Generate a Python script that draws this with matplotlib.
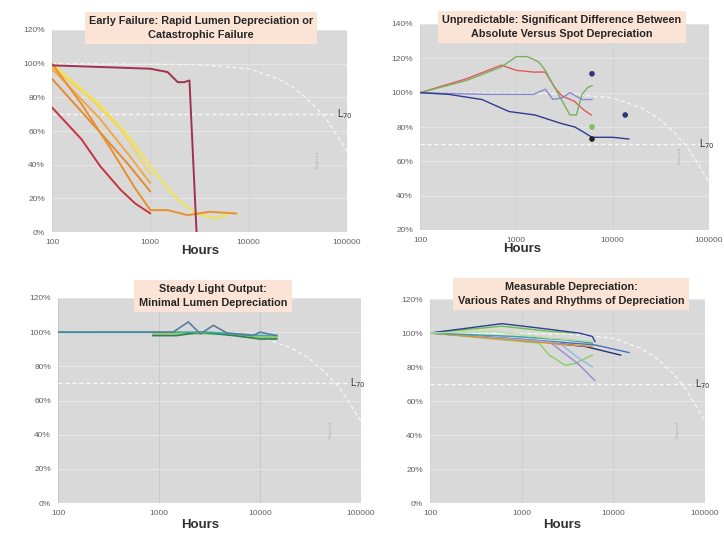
import numpy as np
import matplotlib.pyplot as plt

# ---- data (hours, percent of initial lumens) ----
# white projected-depreciation curve, same in each panel
ref_hours = [100, 3000, 10000, 20000, 30000, 45000, 60000, 80000, 100000]
ref_pct = [100, 99.5, 97, 91, 85, 76, 68, 57, 48]

# panel 1: early failure
p1_maroon_h = [100, 1000, 1500, 1900, 2200, 2500, 2950]
p1_maroon_v = [99, 97, 95, 89, 89, 90, 0]
p1_red_h = [100, 200, 310, 500, 700, 1000]
p1_red_v = [74, 55, 39, 25, 17, 11]
p1_orange1_h = [100, 300, 600, 1000]
p1_orange1_v = [91, 60, 40, 24]
p1_orange2_h = [100, 300, 600, 1000]
p1_orange2_v = [97, 68, 46, 29]
p1_orange3_h = [100, 200, 400, 700, 1000, 1500, 2400, 4000, 7500]
p1_orange3_v = [100, 76, 49, 26, 13, 13, 10, 12, 11]
p1_yellow1_h = [100, 300, 600, 1000, 1500, 2000, 3000, 4500, 6000]
p1_yellow1_v = [100, 76, 57, 39, 26, 18, 11, 8, 10]
p1_yellow2_h = [100, 250, 500, 1000]
p1_yellow2_v = [98, 79, 61, 34]

# panel 2: unpredictable
p2_red_h = [100, 300, 700, 1000, 1500, 2000, 2500, 3000, 4000, 5000, 6000]
p2_red_v = [100, 108, 116, 113, 112, 112, 103, 98, 95, 90, 87]
p2_green_h = [100, 300, 700, 1000, 1300, 1700, 2000, 2500, 3000, 3600, 4200, 4800, 5500, 6100]
p2_green_v = [100, 107, 115, 121, 121, 118, 113, 103, 95, 87, 87, 99, 103, 104]
p2_purple_h = [100, 500, 1500, 2000, 2400, 3000, 3600, 4800, 6100]
p2_purple_v = [100, 99, 99, 102, 96, 97, 100, 96, 96]
p2_blue_h = [100, 200, 440, 840, 1560, 2950, 4050, 5000, 6100, 8000, 10000, 14700]
p2_blue_v = [100, 99, 96, 89, 87, 82, 80, 77, 74, 74, 74, 73]
p2_spot_h = [6100, 6100, 13500, 6100]
p2_spot_v = [111, 80, 87, 73]
p2_spot_c = ['#2b3577', '#7cc060', '#2b3577', '#222222']

# panel 3: steady output
p3_steel_h = [100, 1000, 1380, 1950, 2570, 3450, 4700, 8500, 10000, 14700]
p3_steel_v = [100, 100, 100, 106, 99, 104, 99.5, 98, 100, 98]
p3_teal_h = [100, 1000, 3000, 6000, 10000, 14700]
p3_teal_v = [100, 100, 100, 99, 98, 98]
p3_dgreen_h = [870, 1500, 2570, 5500, 10000, 14700]
p3_dgreen_v = [98, 98, 100, 98, 96, 96]
p3_cyan_h = [100, 1000, 2500, 6000, 12000]
p3_cyan_v = [99.5, 99.5, 99, 98, 97]
p3_lime_h = [870, 2000, 5000, 10000, 14700]
p3_lime_v = [99, 99, 99, 97, 97]

# panel 4: measurable depreciation
p4_series = [
    ('#6cbf4f', [100, 610, 2000, 3800], [100, 104, 101, 100]),
    ('#2e3f8f', [100, 610, 1500, 4200, 5900, 6300], [100, 105.5, 103, 100, 98, 95]),
    ('#4a6fc0', [100, 1200, 6300, 14800], [100, 96, 93, 88.5]),
    ('#243070', [100, 1500, 5000, 12000], [100, 95, 92, 87]),
    ('#8ccf60', [100, 1550, 2000, 3000, 3800, 5900], [100, 94, 87, 81, 82, 87]),
    ('#9a8ad0', [100, 2000, 4200, 6300], [100, 95, 81.5, 72]),
    ('#8fb8e8', [100, 2600, 4000, 5900], [100, 94, 86, 80]),
    ('#e0903a', [100, 3300, 5900], [100, 93, 92]),
    ('#3aa0a0', [100, 800, 3000, 5900], [100, 98, 96, 94]),
    ('#b8e0a0', [100, 500, 2000, 5900], [100, 101, 97, 95]),
]

titles = [
    'Early Failure: Rapid Lumen Depreciation or\nCatastrophic Failure',
    'Unpredictable: Significant Difference Between\nAbsolute Versus Spot Depreciation',
    'Steady Light Output:\nMinimal Lumen Depreciation',
    'Measurable Depreciation:\nVarious Rates and Rhythms of Depreciation',
]
x_ticks = [100, 1000, 10000, 100000]
x_labels = ['100', '1000', '10000', '100000']

plt.rcParams['font.family'] = ['Liberation Sans Narrow', 'Liberation Sans', 'DejaVu Sans']

fig = plt.figure(figsize=(7.24, 5.33), dpi=100)
fig.patch.set_facecolor('white')

W, H = 724.0, 533.0
def box(l, r, t, b):
    return [l / W, 1 - b / H, (r - l) / W, (b - t) / H]

axes = [
    fig.add_axes(box(52, 347, 30, 232)),
    fig.add_axes(box(420, 709, 24, 230)),
    fig.add_axes(box(58, 361, 298, 503)),
    fig.add_axes(box(430, 705, 299, 503)),
]
ylims = [(0, 120), (20, 140), (0, 120), (0, 120)]

for i, ax in enumerate(axes):
    ax.set_facecolor('#d9d9d9')
    ax.set_xscale('log')
    ax.set_xlim(100, 100000)
    ax.set_ylim(*ylims[i])
    ax.set_yticks(np.arange(ylims[i][0], ylims[i][1] + 1, 20))
    ax.set_yticklabels(['%d%%' % v for v in np.arange(ylims[i][0], ylims[i][1] + 1, 20)])
    ax.set_xticks(x_ticks)
    ax.set_xticklabels(x_labels)
    ax.minorticks_off()
    ax.tick_params(length=0, labelsize=6, labelcolor='#606060', pad=5)
    for s in ax.spines.values():
        s.set_visible(False)
    ax.grid(axis='y', color='#e8e8e8', linewidth=0.6)
    ax.grid(axis='x', color='#c8c8c8' if i == 2 else '#d2d2d2', linewidth=0.8)
    ax.set_axisbelow(True)
    # projection and L70
    ax.plot(ref_hours, ref_pct, color='#f4f4f4', linewidth=1.0, linestyle=(0, (3, 2)), zorder=2)
    ax.axhline(70, color='#f8f8f8', linewidth=1.0, linestyle=(0, (3, 2)), zorder=2)
    ax.text(0.965, 70, 'L$_{70}$', transform=ax.get_yaxis_transform(), fontsize=7,
            color='#303030', va='center', ha='left')
    ax.text(0.9, 0.36, 'Projected', transform=ax.transAxes, rotation=90, fontsize=3,
            color='#b0b0b0', va='center', ha='center')

# panel 1
ax = axes[0]
lw = 1.4
for h, v, c in [(p1_yellow2_h, p1_yellow2_v, '#f3d36a'),
                (p1_yellow1_h, p1_yellow1_v, '#f0e448'),
                (p1_orange2_h, p1_orange2_v, '#f0a848'),
                (p1_orange1_h, p1_orange1_v, '#e48a30'),
                (p1_orange3_h, p1_orange3_v, '#e8902c'),
                (p1_red_h, p1_red_v, '#c8323f'),
                (p1_maroon_h, p1_maroon_v, '#a03050')]:
    ax.plot(h, v, color=c, linewidth=lw, solid_capstyle='round', zorder=3)

# panel 2
ax = axes[1]
ax.plot(p2_red_h, p2_red_v, color='#e05a5a', linewidth=1.0, zorder=3)
ax.plot(p2_green_h, p2_green_v, color='#78b060', linewidth=1.0, zorder=3)
ax.plot(p2_purple_h, p2_purple_v, color='#8a88d0', linewidth=1.0, zorder=3)
ax.plot(p2_blue_h, p2_blue_v, color='#2e3c90', linewidth=1.0, zorder=3)
ax.scatter(p2_spot_h, p2_spot_v, c=p2_spot_c, s=9, zorder=4)

# panel 3
ax = axes[2]
ax.plot(p3_cyan_h, p3_cyan_v, color='#a8e8e8', linewidth=1.2, zorder=3)
ax.plot(p3_lime_h, p3_lime_v, color='#90c848', linewidth=1.0, zorder=3)
ax.plot(p3_dgreen_h, p3_dgreen_v, color='#2f7d50', linewidth=1.2, zorder=3)
ax.plot(p3_teal_h, p3_teal_v, color='#3cb0a0', linewidth=1.2, zorder=3)
ax.plot(p3_steel_h, p3_steel_v, color='#5a7ca0', linewidth=1.2, zorder=3)

# panel 4
ax = axes[3]
for c, h, v in p4_series:
    ax.plot(h, v, color=c, linewidth=1.0, zorder=3)

# titles in peach boxes
title_pos = [(201, 28), (562, 27), (213, 296), (571, 294)]
for t, (x, y) in zip(titles, title_pos):
    fig.text(x / W, 1 - y / H, t, ha='center', va='center', fontsize=7.8,
             fontweight='bold', color='#262626', linespacing=1.5,
             bbox=dict(boxstyle='square,pad=0.4', facecolor='#fbe4d5', edgecolor='none'))

for x, y in [(200, 251), (522, 249), (200, 525), (562, 525)]:
    fig.text(x / W, 1 - y / H, 'Hours', ha='center', va='center', fontsize=9.5,
             fontweight='bold', color='#303030')

fig.savefig('out.png', dpi=100)
